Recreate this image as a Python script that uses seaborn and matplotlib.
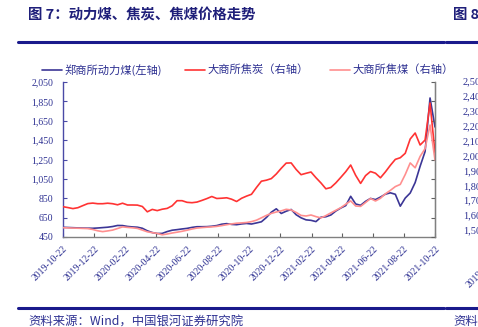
import matplotlib
matplotlib.use("Agg")
import matplotlib.pyplot as plt
import seaborn as sns
import pandas as pd
import numpy as np
from matplotlib.lines import Line2D

# ---------------- data ----------------
start_date = "2019-10-22"
end_date = "2021-10-22"
n_points = 76

thermal_coal = [550, 548, 546, 544, 542, 541, 540, 543, 547, 551,
                558, 569, 568, 559, 554, 551, 540, 514, 496, 486,
                487, 506, 520, 526, 533, 539, 549, 556, 556, 557,
                561, 568, 582, 588, 580, 577, 585, 590, 584, 595,
                607, 651, 706, 741, 693, 716, 734, 680, 648, 627,
                622, 609, 654, 659, 677, 718, 749, 774, 870, 791,
                777, 818, 848, 836, 862, 892, 906, 891, 768, 852,
                904, 1012, 1180, 1332, 1885, 1586]

coke = [1782, 1759, 1733, 1756, 1810, 1862, 1875, 1859, 1859, 1872,
        1859, 1831, 1872, 1826, 1826, 1823, 1787, 1650, 1712, 1681,
        1717, 1738, 1805, 1937, 1937, 1895, 1885, 1901, 1944, 1991,
        2045, 1994, 2001, 2012, 1975, 1916, 1999, 2055, 2102, 2277,
        2440, 2466, 2507, 2626, 2773, 2907, 2912, 2744, 2608, 2644,
        2677, 2530, 2396, 2244, 2277, 2396, 2538, 2685, 2858, 2592,
        2383, 2584, 2690, 2646, 2528, 2680, 2850, 3003, 3046, 3160,
        3529, 3684, 3374, 3503, 4458, 3168]

coking_coal = [1240, 1235, 1230, 1227, 1222, 1217, 1194, 1160, 1139, 1157,
               1178, 1219, 1261, 1248, 1237, 1222, 1178, 1134, 1111, 1093,
               1057, 1077, 1103, 1124, 1147, 1175, 1206, 1230, 1243, 1253,
               1261, 1274, 1294, 1317, 1338, 1356, 1364, 1374, 1397, 1434,
               1495, 1557, 1609, 1645, 1674, 1715, 1697, 1635, 1557, 1542,
               1568, 1526, 1493, 1552, 1622, 1689, 1756, 1846, 1932, 1800,
               1790, 1890, 1994, 1929, 1999, 2115, 2203, 2301, 2357, 2613,
               2912, 2786, 3080, 3281, 3890, 2987]

x_tick_labels = ["2019-10-22", "2019-12-22", "2020-02-22", "2020-04-22",
                 "2020-06-22", "2020-08-22", "2020-10-22", "2020-12-22",
                 "2021-02-22", "2021-04-22", "2021-06-22", "2021-08-22",
                 "2021-10-22"]
left_ticks = [450, 650, 850, 1050, 1250, 1450, 1650, 1850, 2050]
right_ticks = [1000, 1500, 2000, 2500, 3000, 3500, 4000, 4500, 5000]

series_names = ["郑商所动力煤(左轴)", "大商所焦炭（右轴）", "大商所焦煤（右轴）"]
fig8_ticks = ["2,500", "2,400", "2,300", "2,200", "2,100", "2,000",
              "1,900", "1,800", "1,700", "1,600", "1,500"]

title = "图 7：动力煤、焦炭、焦煤价格走势"
title8 = "图 8：动力煤"
source = "资料来源：Wind，中国银河证券研究院"

# ---------------- style ----------------
sns.set_style("ticks")
plt.rcParams["font.family"] = ["Noto Sans CJK SC", "DejaVu Sans"]

NAVY = "#1f1f7a"
TXT = "#2e3192"
BLUE = "#3c3696"
RED = "#ff3333"
PINK = "#ff8f8f"

dates = pd.date_range(start_date, end_date, periods=n_points)
df = pd.DataFrame({"date": dates, "thermal": thermal_coal,
                   "coke": coke, "coking": coking_coal})

W, H = 478, 327
fig = plt.figure(figsize=(W / 100, H / 100), dpi=100)
ax = fig.add_axes([63 / W, 1 - 237 / H, (435 - 63) / W, (237 - 82) / H])
ax2 = ax.twinx()

sns.lineplot(data=df, x="date", y="thermal", ax=ax, color=BLUE, lw=1.2, legend=False)
sns.lineplot(data=df, x="date", y="coke", ax=ax2, color=RED, lw=1.2, legend=False)
sns.lineplot(data=df, x="date", y="coking", ax=ax2, color=PINK, lw=1.2, legend=False)

ax.set_xlim(pd.Timestamp(start_date), pd.Timestamp(end_date))
ax.set_ylim(left_ticks[0], left_ticks[-1])
ax2.set_ylim(right_ticks[0], right_ticks[-1])

ax.set_yticks(left_ticks)
ax.set_yticklabels([f"{v:,}" for v in left_ticks], family="Liberation Serif",
                   fontsize=7, color=TXT)
ax2.set_yticks(right_ticks)
ax2.set_yticklabels([])
xt = pd.to_datetime(x_tick_labels)
ax.set_xticks(xt)
ax.set_xticklabels(x_tick_labels, rotation=45, ha="right", rotation_mode="anchor",
                   family="Liberation Serif", fontsize=7, color=TXT)

for a in (ax, ax2):
    a.set_xlabel("")
    a.set_ylabel("")
    a.spines["top"].set_visible(False)
ax.spines["left"].set_color("#4a4aa6")
ax.spines["bottom"].set_color("#808080")
ax2.spines["right"].set_color("#808080")
ax2.spines["left"].set_visible(False)
ax2.spines["bottom"].set_visible(False)
for s in ("left", "bottom"):
    ax.spines[s].set_linewidth(1.0)
ax2.spines["right"].set_linewidth(1.0)

ax.tick_params(axis="y", direction="in", length=3, pad=7, colors=TXT)
ax.tick_params(axis="y", color="#4a4aa6")
ax.tick_params(axis="x", direction="in", length=3, pad=5, color="#606060")
ax2.tick_params(axis="y", direction="in", length=3, color="#606060")

# ---------------- legend (manual, top) ----------------
ly = 1 - 70 / H
handles = [(42, 62, BLUE, 64), (185, 205, RED, 207), (330, 350, PINK, 352)]
for (x0, x1, c, tx), name in zip(handles, series_names):
    fig.add_artist(Line2D([x0 / W, x1 / W], [ly, ly], color=c, lw=1.2,
                          transform=fig.transFigure))
    fig.text(tx / W, ly, name, fontsize=8.1, color=TXT, va="center", ha="left")

# ---------------- titles, rules, source ----------------
fig.text(28 / W, 1 - 15 / H, title, fontsize=10.4, fontweight="bold",
         color=NAVY, va="center", ha="left")
fig.text(453 / W, 1 - 15 / H, title8, fontsize=10.4, fontweight="bold",
         color=NAVY, va="center", ha="left")

for yy in (42, 308):
    fig.add_artist(Line2D([18 / W, 444 / W], [1 - yy / H, 1 - yy / H],
                          color="#1a1a8c", lw=2.2, transform=fig.transFigure))
    fig.add_artist(Line2D([446 / W, 1.0], [1 - yy / H, 1 - yy / H],
                          color="#1a1a8c", lw=2.2, transform=fig.transFigure))

fig.text(28 / W, 1 - 321 / H, source, fontsize=8.9, color=TXT,
         va="center", ha="left")
fig.text(453 / W, 1 - 321 / H, "资料来源", fontsize=8.9, color=TXT,
         va="center", ha="left")

# partial labels of the neighbouring chart (figure 8), cut by the page edge
for i, lab in enumerate(fig8_ticks):
    yy = 82 + i * (231 - 82) / (len(fig8_ticks) - 1)
    fig.text(463 / W, 1 - yy / H, lab, fontsize=7.5, color=TXT,
             family="Liberation Serif", va="center", ha="left")
fig.text(497 / W, 1 - 251 / H, "2019-10-22", fontsize=7, color=TXT,
         family="Liberation Serif", rotation=45, ha="right", va="top",
         rotation_mode="anchor")

fig.savefig("out.png", dpi=100, facecolor="white")
